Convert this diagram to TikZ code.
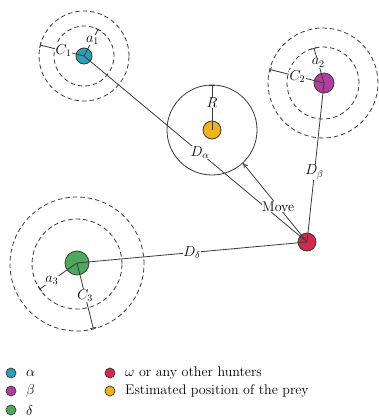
\documentclass[tikz,border=0pt]{standalone}
\usetikzlibrary{arrows.meta}
\definecolor{calpha}{HTML}{2E9DB8}
\definecolor{cbeta}{HTML}{B0409F}
\definecolor{cdelta}{HTML}{4CAA5C}
\definecolor{comega}{HTML}{D42A4A}
\definecolor{cprey}{HTML}{F2B21C}
\definecolor{lin}{HTML}{3A3A3A}
\begin{document}
\begin{tikzpicture}[x=1pt,y=1pt,
  font=\fontsize{14}{16}\selectfont,
  wolf/.style={circle,draw=lin,line width=0.8pt,inner sep=0pt},
  ring/.style={circle,draw=lin,dashed,dash pattern=on 4.5pt off 3pt,line width=0.8pt,inner sep=0pt},
  conn/.style={draw=lin,line width=0.8pt},
  lbl/.style={fill=white,inner sep=0.5pt},
  leg/.style={circle,draw=lin,line width=0.7pt,inner sep=0pt,minimum size=10pt},
  legtext/.style={anchor=west,inner sep=0pt}]
\useasboundingbox (0,0) rectangle (378,-417);
% rings
\node[ring,minimum size=60pt] (a1ring) at (84,-56) {};
\node[ring,minimum size=90pt] (c1ring) at (84,-56) {};
\node[ring,minimum size=72pt] (a2ring) at (323,-83) {};
\node[ring,minimum size=110pt] (c2ring) at (323,-83) {};
\node[ring,minimum size=90pt] (a3ring) at (77,-264) {};
\node[ring,minimum size=134pt] (c3ring) at (77,-264) {};
\node[circle,draw=lin,line width=0.8pt,minimum size=90pt,inner sep=0pt] (zone) at (212,-130) {};
% wolves
\node[wolf,fill=calpha,minimum size=16pt] (alpha) at (84,-56) {};
\node[wolf,fill=cbeta,minimum size=20pt] (beta) at (324,-83) {};
\node[wolf,fill=cdelta,minimum size=24pt] (delta) at (77,-263) {};
\node[wolf,fill=comega,minimum size=18pt] (omega) at (307,-242) {};
\node[wolf,fill=cprey,minimum size=18pt] (prey) at (212,-130) {};
% distances
\draw[conn] (alpha.center) -- node[lbl,pos=0.52]{$D_\alpha$} (omega.center);
\draw[conn] (beta.center) -- node[lbl,pos=0.56]{$D_\beta$} (omega.center);
\draw[conn] (delta.center) -- node[lbl,pos=0.5]{$D_\delta$} (omega.center);
\draw[conn,-{To[length=5pt,width=5pt]}] (omega.center) -- node[lbl,pos=0.45]{Move} (zone.-47);
% radii with ticks
\draw[conn] (alpha.center) -- node[lbl,pos=0.6]{$a_1$} ++(62:30) ++(152:3) -- ++(-28:6);
\draw[conn] (alpha.center) -- node[lbl,pos=0.47]{$C_1$} ++(166:45) ++(256:3) -- ++(76:6);
\draw[conn] (beta.center) -- node[lbl,pos=0.58]{$a_2$} ++(106:36) ++(196:3) -- ++(16:6);
\draw[conn] (beta.center) -- node[lbl,pos=0.5]{$C_2$} ++(166:55) ++(256:3) -- ++(76:6);
\draw[conn] (delta.center) -- node[lbl,pos=0.68]{$a_3$} ++(215:45) ++(305:3) -- ++(125:6);
\draw[conn] (delta.center) -- node[lbl,pos=0.5]{$C_3$} ++(284:67) ++(14:3) -- ++(194:6);
\draw[conn] (prey.center) -- node[lbl,pos=0.6]{$R$} ++(90:45) ++(180:3) -- ++(0:6);
% legend
\node[leg,fill=calpha] (l1) at (11,-373) {};
\node[leg,fill=cbeta] (l2) at (11,-391) {};
\node[leg,fill=cdelta] (l3) at (11,-410) {};
\node[leg,fill=comega] (l4) at (110,-373) {};
\node[leg,fill=cprey] (l5) at (110,-391) {};
\node[legtext] (t1) at (26,-373) {$\alpha$};
\node[legtext] (t2) at (26,-391) {$\beta$};
\node[legtext] (t3) at (26,-410) {$\delta$};
\node[legtext] (t4) at (125,-373) {$\omega$ or any other hunters};
\node[legtext] (t5) at (125,-391) {Estimated position of the prey};
\end{tikzpicture}
\end{document}
